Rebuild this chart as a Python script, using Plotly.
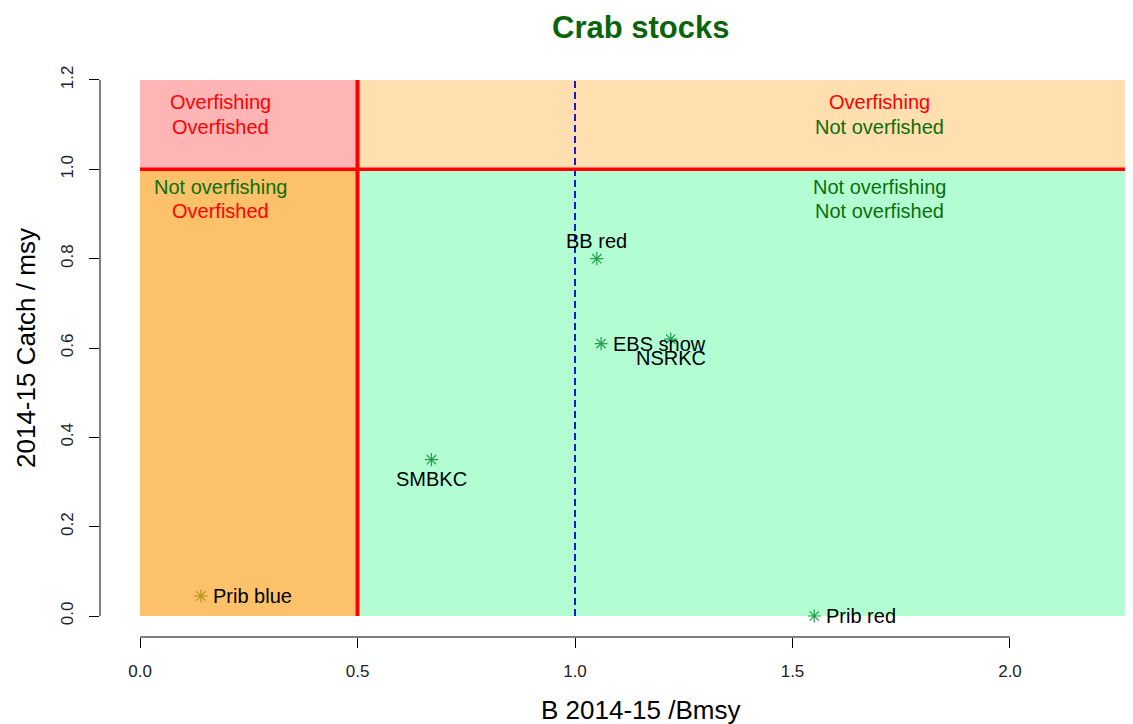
import plotly.graph_objects as go

# ---- data ----
stocks = ["Prib blue", "SMBKC", "BB red", "EBS snow", "NSRKC", "Prib red"]
b_ratio = [0.14, 0.67, 1.05, 1.06, 1.22, 1.55]
catch_ratio = [0.045, 0.35, 0.80, 0.61, 0.62, 0.0]
label_pos = ["right", "below", "above", "right", "below", "right"]
point_colors = ["#B8961E", "#22A04A", "#22A04A", "#22A04A", "#22A04A", "#22A04A"]

b_limit = 0.5        # overfished threshold
b_target = 1.0       # Bmsy
f_limit = 1.0        # overfishing threshold
y_max = 1.2
x_far = 2.6

quad_x = [0.186, 0.186, 0.186, 0.186, 1.70, 1.70, 1.70, 1.70]
quad_y = [1.151, 1.095, 0.960, 0.907, 1.151, 1.095, 0.960, 0.907]
quad_text = ["Overfishing", "Overfished", "Not overfishing", "Overfished",
             "Overfishing", "Not overfished", "Not overfishing", "Not overfished"]
quad_col = ["red", "red", "green", "red", "red", "green", "green", "green"]

x_ticks = [0.0, 0.5, 1.0, 1.5, 2.0]
y_ticks = [0.0, 0.2, 0.4, 0.6, 0.8, 1.0, 1.2]

FONT = "Liberation Sans, Arial, sans-serif"
RED = "#FF0000"
DGREEN = "#0B6E0B"
colmap = {"red": RED, "green": DGREEN}

fig = go.Figure()

# background zones
zones = [
    (0, b_limit, 0, f_limit, "#FDC16A"),
    (0, b_limit, f_limit, y_max, "#FFB5B5"),
    (b_limit, x_far, f_limit, y_max, "#FFDEB0"),
    (b_limit, x_far, 0, f_limit, "#B2FED2"),
]
for x0, x1, y0, y1, c in zones:
    fig.add_shape(type="rect", xref="x", yref="y", x0=x0, x1=x1, y0=y0, y1=y1,
                  fillcolor=c, line_width=0, layer="below")

# reference lines
fig.add_shape(type="line", xref="x", yref="y", x0=b_target, x1=b_target, y0=0, y1=y_max,
              line=dict(color="#1A1ACC", width=2, dash="7px,4px"))
fig.add_shape(type="line", xref="x", yref="y", x0=0, x1=x_far, y0=f_limit, y1=f_limit,
              line=dict(color=RED, width=3.5))
fig.add_shape(type="line", xref="x", yref="y", x0=b_limit, x1=b_limit, y0=0, y1=y_max,
              line=dict(color=RED, width=4))

# points
fig.add_trace(go.Scatter(
    x=b_ratio, y=catch_ratio, mode="markers",
    marker=dict(symbol="asterisk-open", size=11, color=point_colors,
                line=dict(color=point_colors, width=1.2)),
    hoverinfo="text", text=stocks, showlegend=False, cliponaxis=False))

# point labels
for s, x, y, p in zip(stocks, b_ratio, catch_ratio, label_pos):
    if p == "right":
        kw = dict(xanchor="left", yanchor="middle", xshift=10, yshift=0)
    elif p == "above":
        kw = dict(xanchor="center", yanchor="middle", xshift=0, yshift=18)
    else:
        kw = dict(xanchor="center", yanchor="middle", xshift=0, yshift=-19)
    fig.add_annotation(x=x, y=y, xref="x", yref="y", text=s, showarrow=False,
                       font=dict(family=FONT, size=20, color="black"), **kw)

# quadrant labels
for x, y, t, c in zip(quad_x, quad_y, quad_text, quad_col):
    fig.add_annotation(x=x, y=y, xref="x", yref="y", text=t, showarrow=False,
                       xanchor="center", yanchor="middle",
                       font=dict(family=FONT, size=20, color=colmap[c]))

# axis lines (R style, spanning tick range only)
fig.add_shape(type="line", xref="x", yref="paper", x0=x_ticks[0], x1=x_ticks[-1], y0=0, y1=0,
              line=dict(color="black", width=1))
fig.add_shape(type="line", xref="paper", yref="y", x0=0, x1=0, y0=y_ticks[0], y1=y_ticks[-1],
              line=dict(color="black", width=1))

# titles
fig.add_annotation(x=0.5228, y=1.0, xref="paper", yref="paper", yshift=32,
                   text="<b>Crab stocks</b>", showarrow=False, xanchor="center", yanchor="middle",
                   font=dict(family=FONT, size=31, color="#0A640A"))
fig.add_annotation(x=0.5228, y=0, xref="paper", yref="paper", yshift=-73,
                   text="B 2014-15 /Bmsy", showarrow=False, xanchor="center", yanchor="middle",
                   font=dict(family=FONT, size=26, color="black"))
fig.add_annotation(x=0, y=0.5, xref="paper", yref="paper", xshift=-74,
                   text="2014-15 Catch / msy", showarrow=False, textangle=-90,
                   xanchor="center", yanchor="middle",
                   font=dict(family=FONT, size=26, color="black"))

fig.update_layout(
    width=1125, height=716,
    margin=dict(l=92, r=0, t=51, b=87),
    plot_bgcolor="white", paper_bgcolor="white",
    showlegend=False,
    xaxis=dict(range=[-0.092, 2.2828], tickvals=x_ticks,
               ticktext=[f"{v:.1f}" for v in x_ticks],
               showgrid=False, zeroline=False, showline=False,
               ticks="outside", ticklen=10, tickcolor="black",
               ticklabelstandoff=9,
               tickfont=dict(family=FONT, size=17, color="#222")),
    yaxis=dict(range=[-0.047, 1.247], tickvals=y_ticks,
               ticktext=[f"{v:.1f}" for v in y_ticks],
               showgrid=False, zeroline=False, showline=False,
               ticks="outside", ticklen=10, tickcolor="black", tickangle=-90,
               ticklabelstandoff=9,
               tickfont=dict(family=FONT, size=17, color="#222")),
)

fig.write_html("out.html")
